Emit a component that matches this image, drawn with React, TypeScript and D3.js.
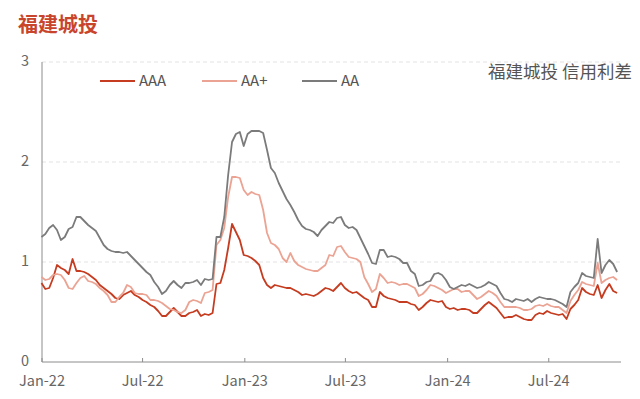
import React from "react";
import * as d3 from "d3";

const title = "福建城投";
const subtitle = "福建城投 信用利差";
const seriesNames = ["AAA", "AA+", "AA"];
const seriesColors = ["#c63c20", "#eba393", "#7b7b7b"];
const startDate = "2021-12-31";
const xTickLabels = ["Jan-22", "Jul-22", "Jan-23", "Jul-23", "Jan-24", "Jul-24"];
const xTickDates = ["2022-01-01", "2022-07-01", "2023-01-01", "2023-07-01", "2024-01-01", "2024-07-01"];
const yTicks = [0, 1, 2, 3];

const aaa = [
  0.79, 0.73, 0.74, 0.84, 0.97, 0.94, 0.92, 0.88, 1.03, 0.91,
  0.91, 0.90, 0.88, 0.85, 0.82, 0.77, 0.74, 0.71, 0.68, 0.64,
  0.63, 0.67, 0.69, 0.71, 0.67, 0.65, 0.62, 0.60, 0.57, 0.55,
  0.51, 0.46, 0.46, 0.50, 0.54, 0.50, 0.46, 0.46, 0.49, 0.50,
  0.52, 0.46, 0.48, 0.47, 0.49, 0.78, 0.79, 0.92, 1.14, 1.38,
  1.30, 1.22, 1.07, 1.06, 1.04, 1.01, 0.97, 0.84, 0.77, 0.74,
  0.77, 0.76, 0.75, 0.74, 0.74, 0.72, 0.70, 0.67, 0.68, 0.67,
  0.66, 0.68, 0.71, 0.74, 0.73, 0.71, 0.75, 0.79, 0.74, 0.71,
  0.69, 0.70, 0.67, 0.64, 0.62, 0.55, 0.55, 0.70, 0.66, 0.64,
  0.63, 0.62, 0.60, 0.60, 0.60, 0.58, 0.57, 0.52, 0.55, 0.59,
  0.62, 0.61, 0.60, 0.61, 0.55, 0.53, 0.54, 0.52, 0.53, 0.53,
  0.52, 0.49, 0.49, 0.53, 0.57, 0.60, 0.57, 0.54, 0.49, 0.44,
  0.45, 0.45, 0.47, 0.45, 0.43, 0.42, 0.42, 0.47, 0.49, 0.48,
  0.51, 0.49, 0.48, 0.47, 0.48, 0.43, 0.53, 0.57, 0.62, 0.74,
  0.70, 0.68, 0.67, 0.77, 0.64, 0.72, 0.78, 0.71, 0.69,
];

const aaPlus = [
  0.85, 0.82, 0.83, 0.87, 0.88, 0.87, 0.82, 0.74, 0.73, 0.79,
  0.84, 0.86, 0.81, 0.80, 0.78, 0.74, 0.71, 0.67, 0.60, 0.60,
  0.65, 0.69, 0.77, 0.75, 0.69, 0.68, 0.68, 0.67, 0.62, 0.62,
  0.61, 0.59, 0.56, 0.53, 0.52, 0.50, 0.49, 0.52, 0.60, 0.62,
  0.61, 0.59, 0.69, 0.70, 0.72, 1.17, 1.22, 1.34, 1.65, 1.85,
  1.85, 1.84, 1.72, 1.67, 1.70, 1.68, 1.67, 1.52, 1.29, 1.19,
  1.17, 1.13, 1.04, 1.00, 1.09, 1.01, 0.97, 0.95, 0.93, 0.92,
  0.91, 0.91, 0.94, 0.97, 1.07, 1.06, 1.15, 1.16, 1.10, 1.05,
  1.04, 1.03, 1.00, 0.85, 0.78, 0.70, 0.73, 0.88, 0.84, 0.79,
  0.80, 0.79, 0.77, 0.78, 0.78, 0.76, 0.74, 0.66, 0.68, 0.72,
  0.77, 0.76, 0.74, 0.72, 0.69, 0.71, 0.73, 0.73, 0.70, 0.71,
  0.71, 0.67, 0.63, 0.65, 0.68, 0.71, 0.69, 0.66, 0.60, 0.55,
  0.55, 0.55, 0.55, 0.54, 0.52, 0.52, 0.53, 0.56, 0.57, 0.56,
  0.58, 0.56, 0.55, 0.55, 0.52, 0.49, 0.61, 0.67, 0.72, 0.80,
  0.78, 0.77, 0.76, 0.99, 0.79, 0.82, 0.84, 0.85, 0.82,
];

const aa = [
  1.25, 1.28, 1.34, 1.37, 1.32, 1.22, 1.25, 1.33, 1.35, 1.45,
  1.45, 1.41, 1.37, 1.34, 1.31, 1.24, 1.17, 1.13, 1.11, 1.10,
  1.10, 1.09, 1.10, 1.06, 1.02, 0.98, 0.94, 0.90, 0.87, 0.80,
  0.75, 0.68, 0.71, 0.77, 0.81, 0.77, 0.74, 0.79, 0.79, 0.80,
  0.82, 0.77, 0.83, 0.82, 0.83, 1.25, 1.25, 1.45, 1.87, 2.20,
  2.28, 2.30, 2.16, 2.28, 2.31, 2.31, 2.31, 2.29, 2.12, 1.94,
  1.89, 1.79, 1.71, 1.63, 1.57, 1.50, 1.42, 1.36, 1.33, 1.32,
  1.30, 1.26, 1.32, 1.36, 1.40, 1.39, 1.44, 1.45, 1.37, 1.34,
  1.35, 1.32, 1.24, 1.16, 1.08, 0.99, 0.98, 1.12, 1.12, 1.05,
  1.06, 1.05, 1.03, 0.99, 0.99, 0.91, 0.88, 0.76, 0.77, 0.80,
  0.81, 0.88, 0.89, 0.87, 0.82, 0.75, 0.73, 0.75, 0.77, 0.76,
  0.78, 0.76, 0.74, 0.75, 0.77, 0.80, 0.78, 0.76, 0.69, 0.63,
  0.62, 0.60, 0.63, 0.62, 0.61, 0.63, 0.60, 0.63, 0.65, 0.64,
  0.63, 0.63, 0.62, 0.60, 0.58, 0.55, 0.70, 0.75, 0.79, 0.89,
  0.86, 0.85, 0.84, 1.23, 0.89, 0.97, 1.02, 0.98, 0.90,
];

const FONT = "'Noto Sans CJK SC', 'Noto Sans', sans-serif";

export default function App() {
  const W = 640;
  const H = 399;
  const left = 42;
  const right = 621;
  const top = 62;
  const bottom = 362;

  const parse = d3.utcParse("%Y-%m-%d");
  const start = parse(startDate)!;
  const dates = aaa.map((_, i) => d3.utcDay.offset(start, 7 * i));

  const x = d3
    .scaleUtc()
    .domain([parse("2022-01-01")!, parse("2024-11-08")!])
    .range([left, right]);
  const y = d3.scaleLinear().domain([0, 3]).range([bottom, top]);

  const line = d3
    .line<number>()
    .x((_, i) => x(dates[i]))
    .y((d) => y(d));

  const allSeries = [aaa, aaPlus, aa];
  const legendX = [100, 202, 302];

  return (
    <svg
      width={W}
      height={H}
      style={{ position: "absolute", left: 0, top: 0, background: "#fff" }}
      fontFamily={FONT}
    >
      <text x={18} y={32} fontSize={20} fontWeight="bold" fill="#c8452b">
        {title}
      </text>

      {yTicks
        .filter((t) => t > 0)
        .map((t) => (
          <line
            key={"g" + t}
            x1={left}
            x2={right}
            y1={y(t)}
            y2={y(t)}
            stroke="#e3e3e3"
            strokeWidth={1}
            strokeDasharray="4,3"
          />
        ))}

      {yTicks.map((t) => (
        <text
          key={"yl" + t}
          x={29}
          y={y(t) - 1.5}
          dy="0.36em"
          textAnchor="end"
          fontSize={14.5}
          fill="#666"
        >
          {t}
        </text>
      ))}

      <line x1={left} x2={left} y1={top} y2={bottom} stroke="#8c8c8c" strokeWidth={1} />
      <line x1={left} x2={right} y1={bottom} y2={bottom} stroke="#8c8c8c" strokeWidth={1} />

      {xTickDates.map((d, i) => {
        const xp = x(parse(d)!);
        return (
          <g key={"xt" + i}>
            <line x1={xp} x2={xp} y1={bottom} y2={bottom - 4} stroke="#8c8c8c" strokeWidth={1} />
            <text x={xp} y={bottom + 24} textAnchor="middle" fontSize={14.5} fill="#666">
              {xTickLabels[i]}
            </text>
          </g>
        );
      })}

      {allSeries.map((s, k) => (
        <path
          key={"s" + k}
          d={line(s) || ""}
          fill="none"
          stroke={seriesColors[k]}
          strokeWidth={1.8}
          strokeLinejoin="round"
        />
      ))}

      {seriesNames.map((n, k) => (
        <g key={"lg" + k}>
          <line
            x1={legendX[k]}
            x2={legendX[k] + 35}
            y1={81}
            y2={81}
            stroke={seriesColors[k]}
            strokeWidth={2}
          />
          <text x={legendX[k] + 39} y={81} dy="0.36em" fontSize={15} fill="#555">
            {n}
          </text>
        </g>
      ))}

      <text x={632} y={72} dy="0.36em" textAnchor="end" fontSize={17.5} fill="#555">
        {subtitle}
      </text>
    </svg>
  );
}
